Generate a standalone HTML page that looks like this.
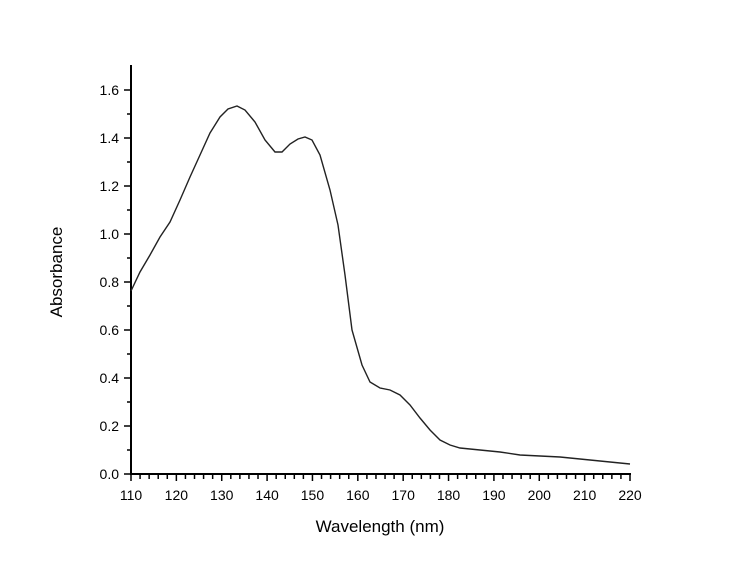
<!DOCTYPE html>
<html><head><style>body{margin:0;background:#fff}svg{display:block}text{font-family:"Liberation Sans",sans-serif;fill:#000}</style></head><body>
<svg width="732" height="570" viewBox="0 0 732 570">
<g stroke="#000" stroke-width="2" fill="none">
<line x1="131" y1="65" x2="131" y2="475"/>
<line x1="130" y1="474" x2="631" y2="474"/>
</g>
<g stroke="#000" stroke-width="1.5" id="t"></g>
<g font-size="14" text-anchor="end" id="yl"></g>
<g font-size="14" text-anchor="middle" id="xl"></g>
<text x="380" y="532" font-size="17" text-anchor="middle">Wavelength (nm)</text>
<text transform="translate(62,272) rotate(-90)" font-size="17" text-anchor="middle">Absorbance</text>
<polyline fill="none" stroke="#222" stroke-width="1.4" points="131,291 140,272 150,255 160,237 170,222 180,200 190,177 200,155 210,133 220,117 228,109 237,106 245,110 255,122 265,140 275,152 282,152 290,144 298,139 305,137 312,140 320,155 330,190 338,225 345,275 352,330 362,365 370,382 380,388 390,390 400,395 410,405 420,418 430,430 440,440 450,445 460,448 480,450 500,452 520,455 540,456 560,457 580,459 600,461 630,464"/>
<script>
var t=document.getElementById('t'),yl=document.getElementById('yl'),xl=document.getElementById('xl'),ns='http://www.w3.org/2000/svg';
function ln(a,b,c,d){var l=document.createElementNS(ns,'line');l.setAttribute('x1',a);l.setAttribute('y1',b);l.setAttribute('x2',c);l.setAttribute('y2',d);t.appendChild(l);}
function tx(p,x,y,s){var e=document.createElementNS(ns,'text');e.setAttribute('x',x);e.setAttribute('y',y);e.textContent=s;p.appendChild(e);}
for(var i=0;i<=16;i++){var y=474-i*24;var maj=i%2==0;ln(maj?124:127,y,131,y);if(maj)tx(yl,119,y+5,(i/10).toFixed(1));}
for(var i=0;i<=55;i++){var x=131+i*499/55;var maj=i%5==0;ln(x,474,x,maj?481:479);if(maj)tx(xl,x,500,110+i*2);}
</script>
</svg></body></html>
